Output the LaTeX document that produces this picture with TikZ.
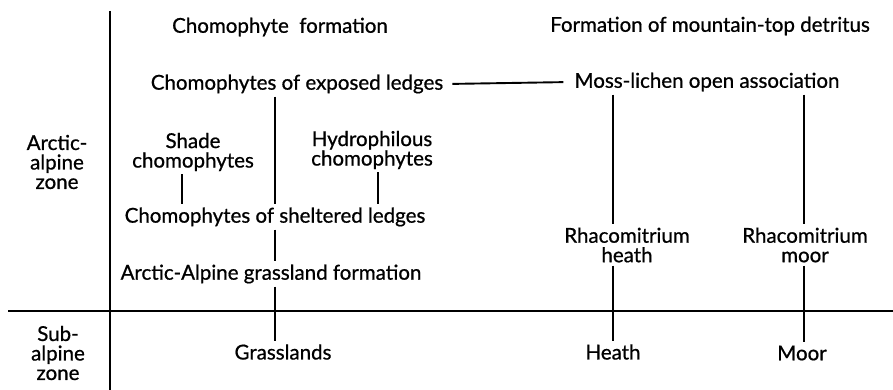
\documentclass[tikz,border=0pt]{standalone}
\usepackage{fontspec}
\setmainfont{Lato}[FakeBold=0.8]
\begin{document}
\begin{tikzpicture}[x=1pt,y=-1pt,
  lbl/.style={inner sep=3pt,font=\fontsize{20.5}{19.5}\selectfont,align=center},
  conn/.style={line width=1.9pt},
  axis/.style={line width=2.6pt}]
\useasboundingbox (0,0) rectangle (893,390);
% texts
\node[lbl] (chf) at (280,27) {Chomophyte\ \ formation};
\node[lbl] (mtd) at (710,26) {Formation of mountain-top detritus};
\node[lbl] (exp) at (297,84) {Chomophytes of exposed ledges};
\node[lbl] (mla) at (707,82) {Moss-lichen open association};
\node[lbl] (shade) at (193,152) {Shade\\chomophytes};
\node[lbl] (hydro) at (372,150) {Hydrophilous\\chomophytes};
\node[lbl] (shelt) at (275,217) {Chomophytes of sheltered ledges};
\node[lbl] (aagr) at (271,274) {Arctic-Alpine grassland formation};
\node[lbl] (rheath) at (627,245) {Rhacomitrium\\heath};
\node[lbl] (rmoor) at (805,245) {Rhacomitrium\\moor};
\node[lbl] (grass) at (283,352) {Grasslands};
\node[lbl] (heath) at (613,352) {Heath};
\node[lbl] (moor) at (802,353) {Moor};
\node[lbl] (aaz) at (57,162) {Arctic-\\alpine\\zone};
\node[lbl] (saz) at (58,353) {Sub-\\alpine\\zone};
% axes
\coordinate (vtop) at (110,11);
\coordinate (vbot) at (110,390);
\coordinate (hl) at (8,311);
\coordinate (hr) at (893,311);
\draw[axis] (vtop) -- (vbot);
\draw[axis] (hl) -- (hr);
% line x positions
\coordinate (xa) at (275,0);
\coordinate (xs) at (182,0);
\coordinate (xh) at (378,0);
\coordinate (xhe) at (613,0);
\coordinate (xm) at (804,0);
% connectors
\draw[conn,shorten <=6pt,shorten >=8pt] (exp.east) -- (mla.west);
\draw[conn] (xa |- exp.south) -- (xa |- shelt.north);
\draw[conn] (xa |- shelt.south) -- (xa |- aagr.north);
\draw[conn] (xa |- aagr.south) -- (xa |- grass.north);
\draw[conn] (xs |- shade.south) -- (xs |- shelt.north);
\draw[conn] (xh |- hydro.south) -- (xh |- shelt.north);
\draw[conn] (xhe |- mla.south) -- (xhe |- rheath.north);
\draw[conn] (xhe |- rheath.south) -- (xhe |- heath.north);
\draw[conn] (xm |- mla.south) -- (xm |- rmoor.north);
\draw[conn] (xm |- rmoor.south) -- (xm |- moor.north);
\end{tikzpicture}
\end{document}
